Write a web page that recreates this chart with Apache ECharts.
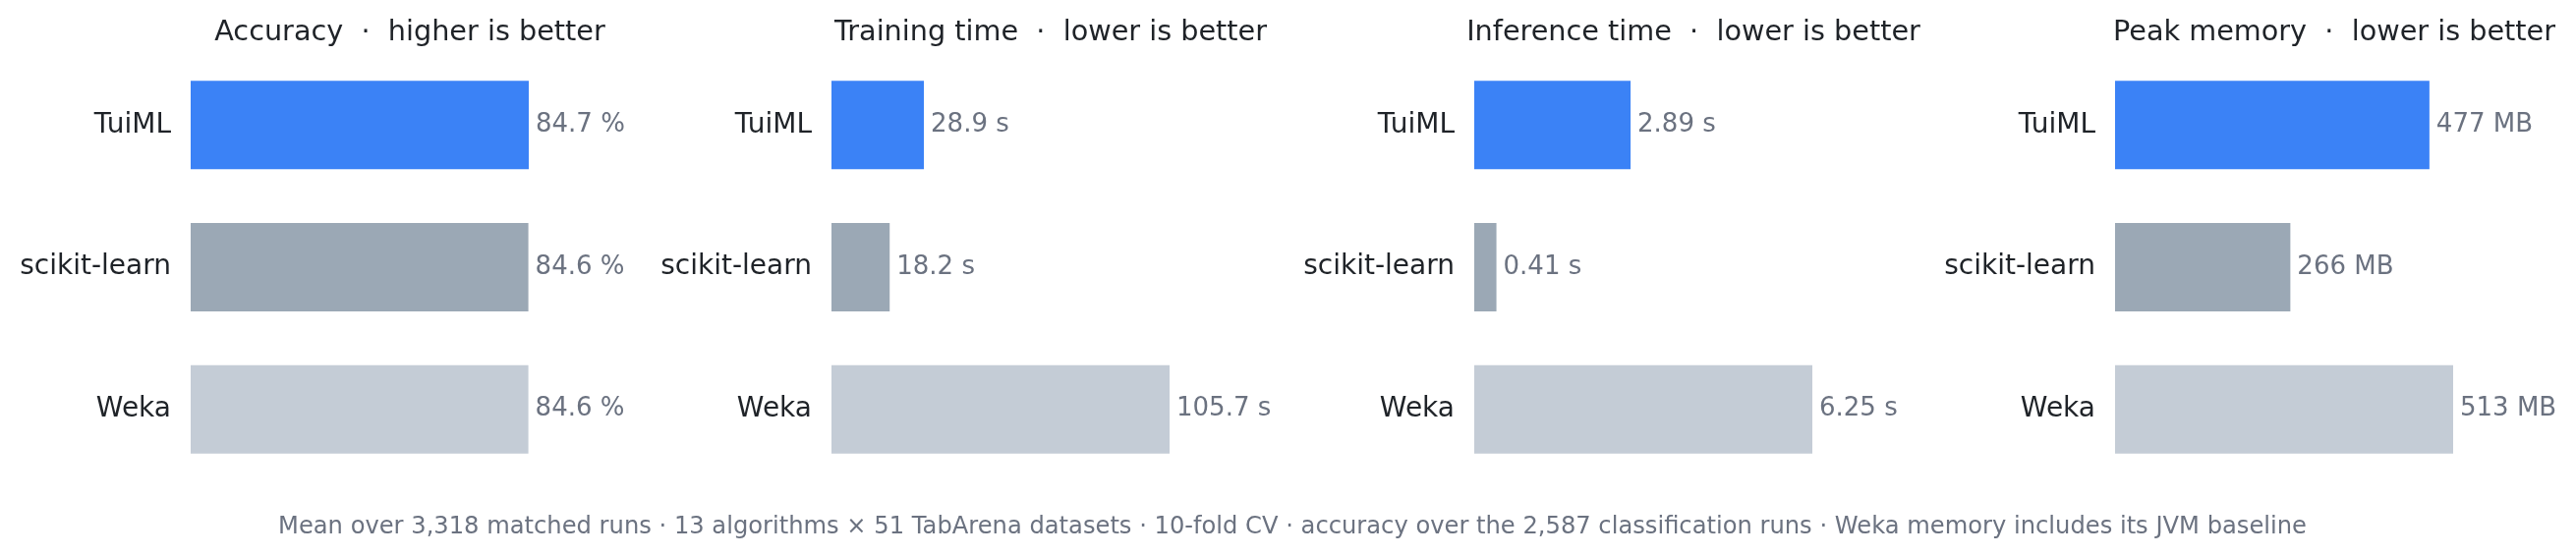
<!DOCTYPE html>
<html><head><meta charset="utf-8">
<script src="https://cdn.jsdelivr.net/npm/echarts@6/dist/echarts.min.js"></script>
<style>html,body{margin:0;padding:0;background:#fff}#c{width:2621px;height:566px}</style>
</head><body><div id="c"></div>
<script>
const categories = ['TuiML','scikit-learn','Weka'];
const accuracy = [84.7, 84.6, 84.6];
const trainTime = [28.9, 18.2, 105.7];
const inferTime = [2.89, 0.41, 6.25];
const peakMem = [477, 266, 513];
const titles = ['Accuracy  ·  higher is better','Training time  ·  lower is better','Inference time  ·  lower is better','Peak memory  ·  lower is better'];
const units = [' %',' s',' s',' MB'];
const decimals = [1,1,2,0];
const colors = ['#3b82f6','#9ba8b5','#c4ccd6'];
const panels = [accuracy, trainTime, inferTime, peakMem];
const lefts = [194, 846, 1500, 2152];
const W = 344;
const font = 'DejaVu Sans';
const opt = {animation:false, textStyle:{fontFamily:font}, title:[], grid:[], xAxis:[], yAxis:[], series:[]};
panels.forEach((vals,i)=>{
  opt.title.push({text:titles[i], left:lefts[i]+W/2+46, top:14, textAlign:'center',
    textStyle:{fontFamily:font, fontSize:28.7, fontWeight:'normal', color:'#1f2328'}});
  opt.grid.push({left:lefts[i], width:W, top:55, height:434});
  opt.xAxis.push({gridIndex:i, type:'value', min:0, max:Math.max(...vals), show:false});
  opt.yAxis.push({gridIndex:i, type:'category', data:categories, inverse:true,
    axisLine:{show:false}, axisTick:{show:false}, splitLine:{show:false},
    axisLabel:{fontSize:28, color:'#1f2328', margin:20, fontFamily:font}});
  opt.series.push({type:'bar', xAxisIndex:i, yAxisIndex:i, barWidth:90,
    data: vals.map((v,k)=>({value:v, itemStyle:{color:colors[k]}})),
    label:{show:true, position:'right', distance:7, fontSize:26, color:'#6b7280', fontFamily:font,
      formatter:p=>p.value.toFixed(decimals[i])+units[i]}});
});
opt.title.push({text:'Mean over 3,318 matched runs · 13 algorithms × 51 TabArena datasets · 10-fold CV · accuracy over the 2,587 classification runs · Weka memory includes its JVM baseline',
  left:1310, top:520, textAlign:'center', textStyle:{fontFamily:font, fontSize:24.2, fontWeight:'normal', color:'#6b7280'}});
echarts.init(document.getElementById('c')).setOption(opt);
</script></body></html>
